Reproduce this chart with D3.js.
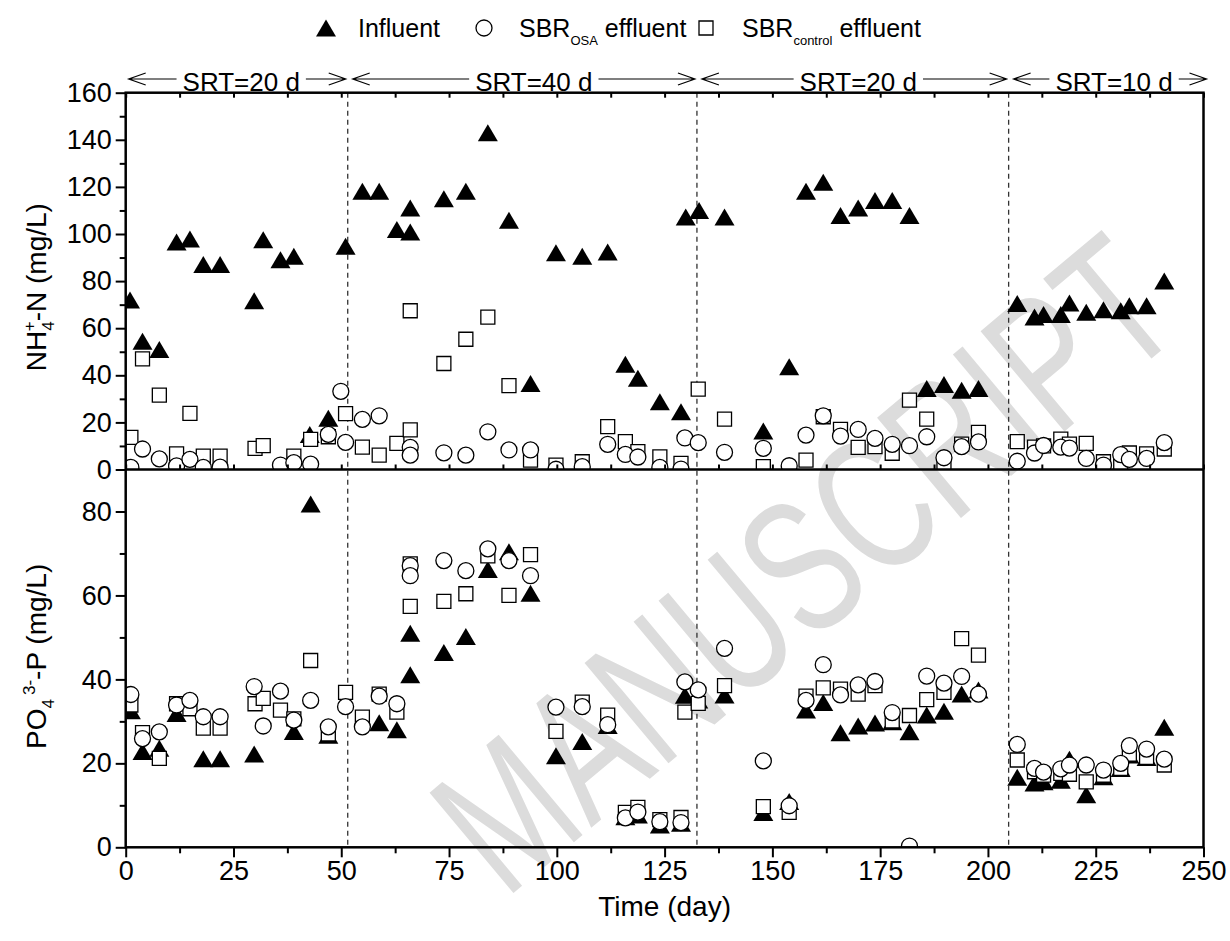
<!DOCTYPE html>
<html><head><meta charset="utf-8">
<script src="https://cdn.jsdelivr.net/npm/d3@7"></script>
<style>body{margin:0;background:#fff}</style>
</head><body>
<svg id="chart" width="1230" height="941"></svg>
<script>
// ---------- data: [day, value] ----------
const nh4Influent = [[1,72],[3.9,54.5],[7.8,51],[11.8,96.6],[14.9,97.9],[18,87],[21.9,87],[29.8,71.7],[31.9,97.6],[35.9,89.1],[39,90.5],[42.7,14.9],[47,21.8],[51,94.8],[54.9,118.2],[58.8,118.2],[62.9,101.9],[66,100.9],[66,111],[73.8,115],[78.9,118.2],[84,143],[88.9,105.8],[93.9,36.5],[99.8,92],[105.9,90.5],[111.8,92.4],[115.9,44.7],[118.8,38.7],[123.9,28.8],[128.8,24.5],[129.9,107.2],[133,110],[138.9,107.2],[147.9,16.3],[153.9,43.6],[157.8,118.1],[161.8,122],[165.8,107.9],[169.9,111],[173.8,114.2],[177.8,114.2],[181.8,107.9],[185.8,34.4],[189.8,36.1],[193.9,33.7],[197.8,34.4],[206.8,70.5],[210.8,64.8],[212.9,65.8],[216.9,65.8],[218.9,70.7],[222.8,66.8],[226.8,67.8],[230.8,67.4],[232.8,69.5],[236.8,69.5],[240.9,80]];
const nh4OSA = [[1.2,0.9],[3.9,8.7],[7.8,4.5],[11.8,1.5],[14.9,4.3],[18,0.9],[21.9,1],[35.9,1.9],[39,2.9],[42.9,2.3],[47,14.9],[49.9,33.2],[51,11.5],[54.9,21.3],[58.8,22.8],[66,9.4],[66,6.1],[73.8,7.1],[78.9,6.1],[84,16],[88.9,8.3],[93.9,8.3],[99.8,0.1],[105.9,1.2],[111.8,10.7],[115.9,6.4],[118.8,5.3],[123.9,0.9],[128.8,0.2],[129.7,13.4],[132.8,11.4],[138.9,7.3],[147.9,9],[153.9,1.6],[157.8,14.6],[161.8,22.8],[165.8,14.2],[169.9,17],[173.8,13.2],[177.8,10.7],[181.8,10.1],[185.8,13.9],[189.8,5],[193.9,9.7],[197.8,11.7],[206.8,3.5],[210.8,7],[212.9,10.2],[216.9,9.5],[218.9,9.1],[222.8,4.7],[226.8,1.9],[230.8,6.3],[232.8,4.3],[236.8,4.7],[240.9,11.4]];
const nh4Control = [[1.2,13.6],[3.9,47],[7.8,31.6],[11.8,6.6],[14.9,23.8],[18,5.7],[21.9,5.7],[30,9],[31.9,10.1],[39,5.7],[42.9,12.8],[47,13.9],[51,23.7],[54.9,9.5],[58.8,6.1],[62.9,11.1],[66,67.4],[66,16.8],[73.8,45],[78.9,55.3],[84,64.7],[88.9,35.6],[93.9,4],[99.8,1.9],[105.9,3.3],[111.8,18.2],[115.9,11.8],[118.8,7.6],[123.9,5.4],[128.8,2.6],[132.8,34.1],[138.9,21.4],[147.9,1.2],[157.8,4],[161.8,22.4],[165.8,17],[169.9,9.4],[173.8,9.7],[177.8,6.9],[181.8,29.5],[185.8,21.4],[189.8,1.2],[193.9,10.8],[197.8,15.8],[206.8,11.8],[210.8,9.5],[212.9,10],[216.9,12.9],[218.9,10.8],[222.8,11.1],[226.8,3.3],[230.8,2],[232.8,7],[236.8,6.6],[240.9,8.7]];

const po4Influent = [[1.2,32.5],[3.9,22.8],[7.8,23.6],[11.8,31.9],[18,21.1],[21.9,21.1],[29.8,22.2],[39,27.6],[42.9,81.8],[47,26.7],[58.8,29.7],[62.9,28],[66,51],[66,41.1],[73.8,46.4],[78.9,50.2],[84,66.2],[88.9,70.4],[93.9,60.5],[99.8,21.8],[105.9,25.2],[111.8,29],[115.9,7.3],[118.8,7.7],[123.9,5.3],[128.8,5.7],[129.7,36.2],[132.8,35.1],[138.9,36.3],[147.9,8.3],[153.9,10.9],[157.8,32.7],[161.8,34.5],[165.8,27.3],[169.9,28.9],[173.8,29.6],[177.8,29.9],[181.8,27.5],[185.8,31.5],[189.8,32.4],[193.9,36.5],[197.8,37.5],[206.8,16.7],[210.8,15.3],[212.9,15.6],[216.9,16],[218.9,21],[222.8,12.5],[226.8,16.8],[230.8,18.8],[232.8,22],[236.8,21.4],[240.9,28.6]];
const po4OSA = [[1.2,36.4],[3.9,25.9],[7.8,27.5],[11.8,33.9],[14.9,35],[18,31.1],[21.9,31.1],[29.8,38.3],[31.9,28.9],[35.9,37.2],[39,30.3],[42.9,35],[47,28.7],[51,33.5],[54.9,28.7],[58.8,36],[62.9,34.2],[66,67.1],[66,64.7],[73.8,68.3],[78.9,65.9],[84,71.1],[88.9,68.3],[93.9,64.7],[99.8,33.4],[105.9,33.5],[111.8,29.2],[115.9,7],[118.8,8.4],[123.9,6.1],[128.8,5.9],[129.7,39.4],[132.8,37.5],[138.9,47.4],[147.9,20.6],[153.9,9.9],[157.8,35],[161.8,43.5],[165.8,36.3],[169.9,38.7],[173.8,39.5],[177.8,32.1],[181.8,0.3],[185.8,40.8],[189.8,39.1],[193.9,40.7],[197.8,36.5],[206.8,24.5],[210.8,18.8],[212.9,17.9],[216.9,18.7],[218.9,19.6],[222.8,19.6],[226.8,18.4],[230.8,20],[232.8,24.2],[236.8,23.4],[240.9,21]];
const po4Control = [[1.2,33.9],[3.9,27.3],[7.8,21.2],[11.8,34.2],[14.9,33],[18,28.4],[21.9,28.4],[30,34.2],[31.9,35.5],[35.9,32.7],[39,30.6],[42.9,44.5],[47,27],[51,36.9],[54.9,31],[58.8,36.5],[62.9,32.2],[66,67.5],[66,57.4],[73.8,58.6],[78.9,60.4],[84,69.4],[88.9,60],[93.9,69.7],[99.8,27.6],[105.9,34.6],[111.8,31.5],[115.9,8.3],[118.8,9.5],[123.9,6.6],[128.8,7.1],[129.7,32.2],[132.8,34.3],[138.9,38.5],[147.9,9.7],[153.9,8.3],[157.8,36],[161.8,38],[165.8,37.7],[169.9,36.5],[173.8,38.5],[177.8,30.1],[181.8,31.4],[185.8,35.2],[189.8,36.9],[193.9,49.7],[197.8,45.8],[206.8,20.8],[210.8,18],[212.9,17.2],[216.9,17.6],[218.9,17.4],[222.8,15.6],[226.8,17.2],[230.8,18.8],[232.8,22.2],[236.8,21.4],[240.9,19.6]];

const xTicks = [0,25,50,75,100,125,150,175,200,225,250];
const nh4Ticks = [0,20,40,60,80,100,120,140,160];
const po4Ticks = [0,20,40,60,80];
const srtBounds = [0,51.5,132.5,204.8,250];
const srtLabels = ["SRT=20 d","SRT=40 d","SRT=20 d","SRT=10 d"];
const legendNames = ["Influent","SBR","SBR"];
const legendSubs = ["","OSA","control"];

// ---------- layout ----------
const FONT = '"Liberation Sans", Arial, Helvetica, sans-serif';
const L = 125.7, R = 1203.5, T = 92.7, M = 469.5, B = 847.3;
const svg = d3.select('#chart').style('font-family', FONT);
const x = d3.scaleLinear([0, 250], [L, R]);
const yN = d3.scaleLinear([0, 160], [M, T]);
const yP = d3.scaleLinear([0, 90], [B, M]);

// watermark: horizontally squeezed by a scale transform
{
  const sx = 505, sy = 900, ex = 1188, ey = 328;
  const ang = Math.atan2(ey - sy, ex - sx) * 180 / Math.PI;
  const len = Math.hypot(ex - sx, ey - sy);
  const wm = svg.append('text')
    .attr('font-size', 190).attr('fill', '#dcdcdc')
    .text('MANUSCRIPT');
  const nat = wm.node().getComputedTextLength();
  wm.attr('transform', `translate(${sx},${sy}) rotate(${ang}) scale(${len / nat},1)`);
}

const defs = svg.append('defs');
defs.append('clipPath').attr('id', 'cTop').append('rect')
  .attr('x', L).attr('y', T).attr('width', R - L).attr('height', M - T);
defs.append('clipPath').attr('id', 'cBot').append('rect')
  .attr('x', L).attr('y', M).attr('width', R - L).attr('height', B - M);

// dashed dividers
svg.append('g').selectAll('line').data(srtBounds.slice(1, -1)).join('line')
  .attr('x1', d => x(d)).attr('x2', d => x(d)).attr('y1', T).attr('y2', B)
  .attr('stroke', '#333').attr('stroke-width', 1.3).attr('stroke-dasharray', '5,4');

// markers
const triPath = 'M0,-8.5L10,8.5L-10,8.5Z';
const circPath = d3.symbol(d3.symbolCircle, Math.PI * 8 * 8)();
const sqPath = d3.symbol(d3.symbolSquare, 14 * 14)();

function drawPanel(clip, y, inf, osa, ctl) {
  const g = svg.append('g').attr('clip-path', `url(#${clip})`);
  g.append('g').selectAll('path').data(inf).join('path')
    .attr('d', triPath).attr('fill', '#000')
    .attr('transform', d => `translate(${x(d[0])},${y(d[1])})`);
  g.append('g').selectAll('path').data(ctl).join('path')
    .attr('d', sqPath).attr('fill', '#fff').attr('stroke', '#000').attr('stroke-width', 1.3)
    .attr('transform', d => `translate(${x(d[0])},${y(d[1])})`);
  g.append('g').selectAll('path').data(osa).join('path')
    .attr('d', circPath).attr('fill', '#fff').attr('stroke', '#000').attr('stroke-width', 1.3)
    .attr('transform', d => `translate(${x(d[0])},${y(d[1])})`);
}
drawPanel('cTop', yN, nh4Influent, nh4OSA, nh4Control);
drawPanel('cBot', yP, po4Influent, po4OSA, po4Control);

// axes
const TFS = 27;
function styleAxis(g) {
  g.select('.domain').remove();
  g.selectAll('.tick line').attr('stroke', '#000').attr('stroke-width', 2);
  g.selectAll('.tick text').attr('font-size', TFS).attr('fill', '#000').attr('font-family', FONT);
}
const minorN = d3.range(10, 160, 20);
const minorP = d3.range(10, 90, 20);
const minorX = d3.range(12.5, 250, 25);
const allX = d3.range(0, 250.1, 12.5);

svg.append('g').attr('transform', `translate(${L},0)`)
  .call(d3.axisLeft(yN).tickValues(nh4Ticks).tickSize(10).tickPadding(4).tickFormat(d3.format('d')))
  .call(styleAxis);
svg.append('g').attr('transform', `translate(${L},0)`)
  .call(d3.axisLeft(yN).tickValues(minorN).tickSize(6).tickFormat(''))
  .call(styleAxis);
svg.append('g').attr('transform', `translate(${L},0)`)
  .call(d3.axisLeft(yP).tickValues(po4Ticks).tickSize(10).tickPadding(4).tickFormat(d3.format('d')))
  .call(styleAxis);
svg.append('g').attr('transform', `translate(${L},0)`)
  .call(d3.axisLeft(yP).tickValues(minorP).tickSize(6).tickFormat(''))
  .call(styleAxis);
svg.append('g').attr('transform', `translate(0,${B})`)
  .call(d3.axisBottom(x).tickValues(xTicks).tickSize(10).tickPadding(4).tickFormat(d3.format('d')))
  .call(styleAxis);
svg.append('g').attr('transform', `translate(0,${B})`)
  .call(d3.axisBottom(x).tickValues(minorX).tickSize(6).tickFormat(''))
  .call(styleAxis);
svg.append('g').attr('transform', `translate(0,${T})`)
  .call(d3.axisBottom(x).tickValues(allX).tickSize(5).tickFormat(''))
  .call(styleAxis);
svg.append('g').attr('transform', `translate(0,${M})`)
  .call(d3.axisTop(x).tickValues(allX).tickSize(5).tickFormat(''))
  .call(styleAxis);

// frame
svg.append('rect').attr('x', L).attr('y', T).attr('width', R - L).attr('height', B - T)
  .attr('fill', 'none').attr('stroke', '#000').attr('stroke-width', 2.5);
svg.append('line').attr('x1', L).attr('x2', R).attr('y1', M).attr('y2', M)
  .attr('stroke', '#000').attr('stroke-width', 2.5);

// axis titles
svg.append('text').attr('x', (L + R) / 2).attr('y', 916).attr('text-anchor', 'middle')
  .attr('font-size', 28).text('Time (day)');

const tN = svg.append('text').attr('transform', `translate(46,${(T + M) / 2 + 6}) rotate(-90)`)
  .attr('text-anchor', 'middle').attr('font-size', 28);
tN.append('tspan').text('NH');
tN.append('tspan').attr('font-size', 17).attr('dy', 8).text('4');
tN.append('tspan').attr('font-size', 17).attr('dx', -10).attr('dy', -19).text('+');
tN.append('tspan').attr('dy', 11).text('-N (mg/L)');

const tP = svg.append('text').attr('transform', `translate(46,${(M + B) / 2 - 2}) rotate(-90)`)
  .attr('text-anchor', 'middle').attr('font-size', 28);
tP.append('tspan').text('PO');
tP.append('tspan').attr('font-size', 17).attr('dy', 8).text('4');
tP.append('tspan').attr('font-size', 17).attr('dx', 4).attr('dy', -19).text('3-');
tP.append('tspan').attr('dy', 11).text('-P (mg/L)');

// SRT annotations
const ay = 79;
srtLabels.forEach((lab, i) => {
  const x0 = x(srtBounds[i]) + (i === 0 ? 3 : 5);
  const x1 = x(srtBounds[i + 1]) + (i === srtLabels.length - 1 ? 3 : -2);
  const cx = (x0 + x1) / 2 + (i === 1 ? 10 : 4);
  const t = svg.append('text').attr('x', cx).attr('y', 91).attr('text-anchor', 'middle')
    .attr('font-size', 26).text(lab);
  const w = t.node().getComputedTextLength();
  const g = svg.append('g').attr('stroke', '#000').attr('stroke-width', 1.2).attr('fill', 'none');
  g.append('path').attr('d', `M${x0 + 17},${ay - 6}L${x0},${ay}L${x0 + 17},${ay + 6}M${x0},${ay}L${cx - w / 2 - 6},${ay}`);
  g.append('path').attr('d', `M${x1 - 17},${ay - 6}L${x1},${ay}L${x1 - 17},${ay + 6}M${x1},${ay}L${cx + w / 2 + 6},${ay}`);
});

// legend
const ly = 28;
const lg = svg.append('g');
lg.append('path').attr('d', triPath).attr('fill', '#000').attr('transform', `translate(326,${ly})`);
lg.append('path').attr('d', circPath).attr('fill', '#fff').attr('stroke', '#000').attr('stroke-width', 1.3)
  .attr('transform', `translate(484,${ly})`);
lg.append('path').attr('d', sqPath).attr('fill', '#fff').attr('stroke', '#000').attr('stroke-width', 1.3)
  .attr('transform', `translate(706,${ly})`);
const lx = [358, 519, 742];
legendNames.forEach((n, i) => {
  const t = lg.append('text').attr('x', lx[i]).attr('y', ly + 9).attr('font-size', 25);
  t.append('tspan').text(n);
  if (legendSubs[i]) {
    t.append('tspan').attr('font-size', 13).attr('dy', 8).text(legendSubs[i]);
    t.append('tspan').attr('dy', -8).text(' effluent');
  }
});
</script>
</body></html>
